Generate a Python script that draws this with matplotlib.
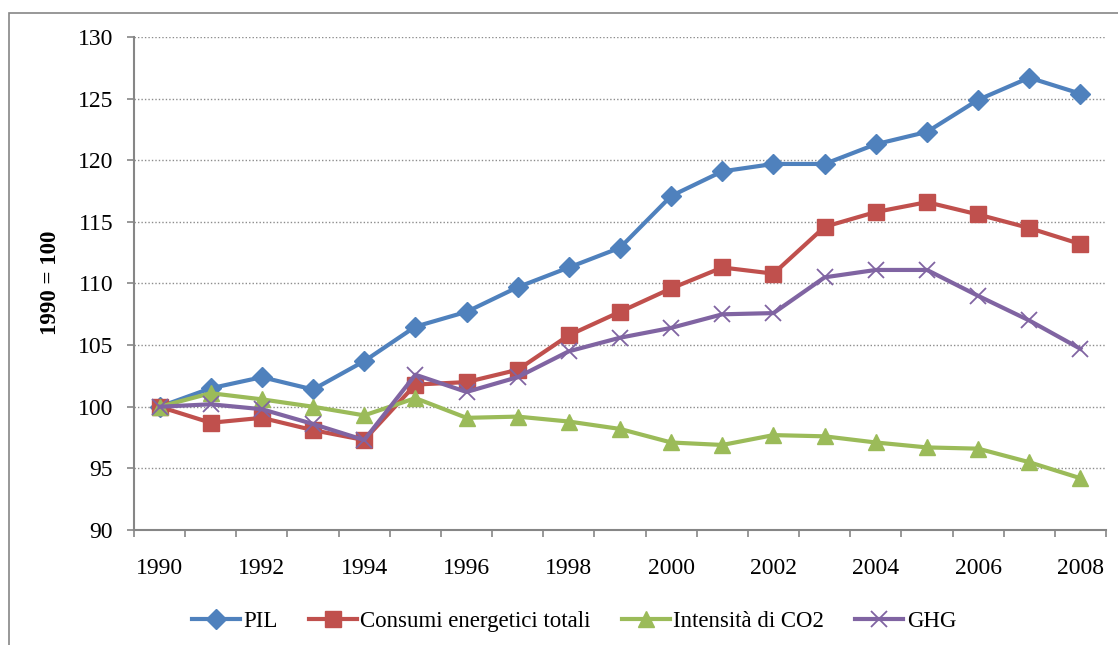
import matplotlib
matplotlib.use("Agg")
import matplotlib.pyplot as plt
from matplotlib.patches import Rectangle
import numpy as np

years = list(range(1990, 2009))
pil = [100, 101.5, 102.4, 101.4, 103.7, 106.5, 107.7, 109.7, 111.3, 112.9,
       117.1, 119.1, 119.7, 119.7, 121.3, 122.3, 124.9, 126.7, 125.4]
consumi = [100, 98.7, 99.1, 98.1, 97.3, 101.8, 102.0, 103.0, 105.8, 107.7,
           109.6, 111.3, 110.8, 114.6, 115.8, 116.6, 115.6, 114.5, 113.2]
intensita = [100, 101.1, 100.6, 100.0, 99.3, 100.7, 99.1, 99.2, 98.8, 98.2,
             97.1, 96.9, 97.7, 97.6, 97.1, 96.7, 96.6, 95.5, 94.2]
ghg = [100, 100.2, 99.8, 98.6, 97.3, 102.6, 101.2, 102.4, 104.5, 105.6,
       106.4, 107.5, 107.6, 110.5, 111.1, 111.1, 109.0, 107.0, 104.7]

labels = ["PIL", "Consumi energetici totali", "Intensità di CO2", "GHG"]
colors = ["#4F81BD", "#C0504D", "#9BBB59", "#8064A2"]

plt.rcParams['font.family'] = ['Liberation Serif', 'DejaVu Serif']

fig = plt.figure(figsize=(11.18, 6.45), dpi=100)
W, H = 1118, 645
# outer chart frame
fig.patches.append(Rectangle((9 / W, -0.1), 1.2, 1 - 13 / H + 0.1,
                             transform=fig.transFigure, fill=False,
                             edgecolor="#868686", linewidth=1.2))

ax = fig.add_axes([134 / W, 1 - 530 / H, (1106 - 134) / W, (530 - 37) / H])
x = np.arange(len(years))
ax.plot(x, pil, color=colors[0], lw=3, marker='D', ms=10, label=labels[0])
ax.plot(x, consumi, color=colors[1], lw=3, marker='s', ms=12, label=labels[1])
ax.plot(x, intensita, color=colors[2], lw=3, marker='^', ms=12, label=labels[2])
ax.plot(x, ghg, color=colors[3], lw=3, marker='x', ms=12, mew=1.3, label=labels[3])

ax.set_xlim(-0.5, len(years) - 0.5)
ax.set_ylim(90, 130)
ax.set_yticks(np.arange(90, 131, 5))
ax.tick_params(axis='y', labelsize=17, length=5, color="#868686", pad=10, width=1.2)

ax.set_xticks(np.arange(-0.5, len(years), 1.0))
ax.set_xticklabels([])
ax.tick_params(axis='x', which='major', length=5, color="#868686", width=1.2)
ax.set_xticks(x[::2], minor=True)
ax.set_xticklabels([str(y) for y in years[::2]], minor=True)
ax.tick_params(axis='x', which='minor', length=0, labelsize=17, pad=20)

for s in ['top', 'right']:
    ax.spines[s].set_visible(False)
for s in ['left', 'bottom']:
    ax.spines[s].set_color("#868686")
    ax.spines[s].set_linewidth(1.5)

for v in range(95, 131, 5):
    ax.axhline(v, color="#8c8c8c", lw=1.0, ls=(0, (1, 1.5)), zorder=0)

fig.text(51 / W, 1 - 283 / H, "1990 = 100", rotation=90, ha='center', va='center',
         fontsize=16.5, fontweight='bold')

fig.legend(loc='center', bbox_to_anchor=(574 / W, 1 - 621 / H), ncol=4,
           frameon=False, fontsize=16.5, handlelength=2.1, handletextpad=0.15,
           columnspacing=1.35)

fig.savefig("out.png", dpi=100)
